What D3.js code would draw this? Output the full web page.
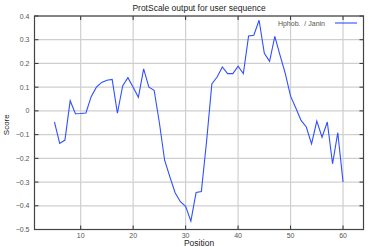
<!DOCTYPE html>
<html>
<head>
<meta charset="utf-8">
<script src="https://cdn.jsdelivr.net/npm/d3@7"></script>
<style>
  body { margin: 0; background: #fff; }
  svg { display: block; font-family: "Liberation Sans", Arial, sans-serif; }
  .grid line { stroke: #cfcfcf; stroke-width: 1.2; }
  .tick-lbl { fill: #555; font-size: 7px; }
</style>
</head>
<body>
<svg width="376" height="247"></svg>
<script>
// ProtScale, Hphob. / Janin, window positions 5..60
var positions = d3.range(5, 61);
var scores = [-0.046, -0.137, -0.123, 0.043, -0.012, -0.011, -0.009, 0.06, 0.10, 0.12,
              0.129, 0.133, -0.01, 0.105, 0.14, 0.10, 0.057, 0.177, 0.10, 0.087,
              -0.05, -0.208, -0.278, -0.345, -0.383, -0.402, -0.465, -0.344, -0.34, -0.127,
              0.114, 0.143, 0.185, 0.157, 0.157, 0.188, 0.157, 0.316, 0.319, 0.382,
              0.243, 0.209, 0.314, 0.234, 0.157, 0.062, 0.012, -0.04, -0.068, -0.139,
              -0.043, -0.111, -0.047, -0.223, -0.092, -0.30];
var xTicks = [10, 20, 30, 40, 50, 60];
var yTicks = [0.4, 0.3, 0.2, 0.1, 0, -0.1, -0.2, -0.3, -0.4, -0.5];
var title = "ProtScale output for user sequence";
var seriesName = "Hphob.  / Janin";

var svg = d3.select("svg"),
    pLeft = 34.5, pRight = 363.5, pTop = 16, pBottom = 229.5;

var x = d3.scaleLinear().domain([1.2, 63.9]).range([pLeft, pRight]);
var y = d3.scaleLinear().domain([-0.5, 0.4]).range([pBottom, pTop]);

var grid = svg.append("g").attr("class", "grid");
grid.selectAll(".vx").data(xTicks).enter().append("line")
    .attr("x1", d => x(d)).attr("x2", d => x(d))
    .attr("y1", pTop).attr("y2", pBottom);
grid.selectAll(".hy").data(yTicks).enter().append("line")
    .attr("x1", pLeft).attr("x2", pRight)
    .attr("y1", d => y(d)).attr("y2", d => y(d));

// inward tick marks on all four sides
var tk = svg.append("g").attr("stroke", "#333").attr("stroke-width", 1);
yTicks.forEach(function(d) {
    tk.append("line").attr("x1", pLeft).attr("x2", pLeft + 4).attr("y1", y(d)).attr("y2", y(d));
    tk.append("line").attr("x1", pRight).attr("x2", pRight - 4).attr("y1", y(d)).attr("y2", y(d));
});
xTicks.forEach(function(d) {
    tk.append("line").attr("x1", x(d)).attr("x2", x(d)).attr("y1", pBottom).attr("y2", pBottom - 4);
    tk.append("line").attr("x1", x(d)).attr("x2", x(d)).attr("y1", pTop).attr("y2", pTop + 4);
});

svg.append("rect")
    .attr("x", pLeft).attr("y", pTop)
    .attr("width", pRight - pLeft).attr("height", pBottom - pTop)
    .attr("fill", "none").attr("stroke", "#444").attr("stroke-width", 1.2);

// tick labels
svg.selectAll(".ylab").data(yTicks).enter().append("text")
    .attr("class", "tick-lbl")
    .attr("x", pLeft - 5).attr("y", d => y(d) + 2.5)
    .attr("text-anchor", "end")
    .text(d => d3.format("")(d));
svg.selectAll(".xlab").data(xTicks).enter().append("text")
    .attr("class", "tick-lbl")
    .attr("x", d => x(d)).attr("y", pBottom + 8)
    .attr("text-anchor", "middle")
    .text(d => d);

var line = d3.line()
    .x(function(d, i) { return x(positions[i]); })
    .y(function(d) { return y(d); });

svg.append("path")
    .attr("d", line(scores))
    .attr("fill", "none")
    .attr("stroke", "#2f50ff")
    .attr("stroke-width", 1.1);

// title and axis names
svg.append("text")
    .attr("x", (pLeft + pRight) / 2).attr("y", 11)
    .attr("text-anchor", "middle")
    .attr("font-size", "8.5px").attr("fill", "#222")
    .text(title);
svg.append("text")
    .attr("x", (pLeft + pRight) / 2).attr("y", 246)
    .attr("text-anchor", "middle")
    .attr("font-size", "8.5px").attr("fill", "#222")
    .text("Position");
svg.append("text")
    .attr("transform", "translate(9," + ((pTop + pBottom) / 2 + 2) + ") rotate(-90)")
    .attr("text-anchor", "middle")
    .attr("font-size", "8px").attr("fill", "#222")
    .text("Score");

// legend
svg.append("text")
    .attr("x", 325).attr("y", 25.5)
    .attr("text-anchor", "end")
    .attr("font-size", "7px").attr("fill", "#555")
    .style("white-space", "pre")
    .text(seriesName);
svg.append("line")
    .attr("x1", 335).attr("x2", 357).attr("y1", 23).attr("y2", 23)
    .attr("stroke", "#2f50ff").attr("stroke-width", 1.1);
</script>
</body>
</html>
